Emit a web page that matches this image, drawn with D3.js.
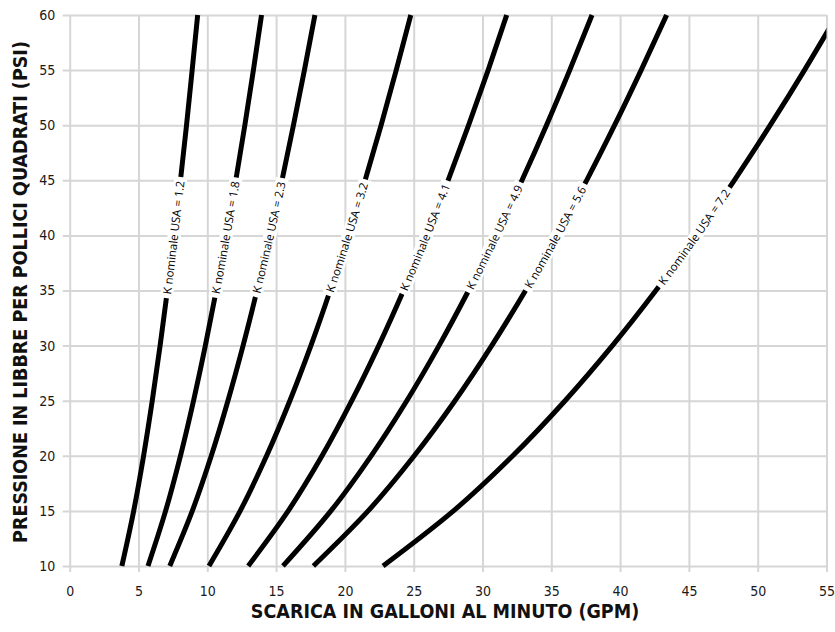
<!DOCTYPE html>
<html><head><meta charset="utf-8">
<script src="https://cdn.jsdelivr.net/npm/d3@7"></script>
<style>body{margin:0;background:#fff}</style></head><body>
<svg id="c" width="835" height="632"></svg>
<script>
// PSI values at which the curves were read
const pressure = [10, 15, 20, 25, 30, 35, 40, 45, 50, 55, 60];
const kValues = ["1.2", "1.8", "2.3", "3.2", "4.1", "4.9", "5.6", "7.2"];
// GPM read at each pressure, one array per curve
const flowK12 = [3.79, 4.65, 5.37, 6.00, 6.57, 7.10, 7.59, 8.05, 8.49, 8.90, 9.30];
const flowK18 = [5.69, 6.97, 8.05, 9.00, 9.86, 10.65, 11.38, 12.07, 12.73, 13.35, 13.94];
const flowK23 = [7.27, 8.91, 10.29, 11.50, 12.60, 13.61, 14.55, 15.43, 16.26, 17.06, 17.82];
const flowK32 = [10.12, 12.39, 14.31, 16.00, 17.53, 18.93, 20.24, 21.47, 22.63, 23.73, 24.79];
const flowK41 = [12.97, 15.88, 18.34, 20.50, 22.46, 24.26, 25.93, 27.50, 28.99, 30.41, 31.76];
const flowK49 = [15.50, 18.98, 21.91, 24.50, 26.84, 28.99, 30.99, 32.87, 34.65, 36.34, 37.96];
const flowK56 = [17.71, 21.69, 25.04, 28.00, 30.67, 33.13, 35.42, 37.57, 39.60, 41.53, 43.38];
const flowK72 = [22.77, 27.89, 32.20, 36.00, 39.44, 42.60, 45.54, 48.30, 50.91, 53.40, 55.77];
const flows = [flowK12, flowK18, flowK23, flowK32, flowK41, flowK49, flowK56, flowK72];
const xTicks = [0, 5, 10, 15, 20, 25, 30, 35, 40, 45, 50, 55];
const yTicks = [10, 15, 20, 25, 30, 35, 40, 45, 50, 55, 60];
const labelPressure = 39.8;
const xTitle = "SCARICA IN GALLONI AL MINUTO (GPM)";
const yTitle = "PRESSIONE IN LIBBRE PER POLLICI QUADRATI (PSI)";

const svg = d3.select("#c");
const x = d3.scaleLinear().domain([0, 55]).range([69.7, 826.5]);
const y = d3.scaleLinear().domain([10, 60]).range([566, 15]);
const gridColor = "#d6d6d6";
const tickFont = "'Liberation Sans Narrow', 'DejaVu Sans Condensed', sans-serif";

// X axis / vertical grid
const gx = svg.append("g").attr("transform", `translate(0,${y(10) + 6})`)
  .call(d3.axisBottom(x).tickValues(xTicks).tickSize(-(y(10) + 6 - y(60))).tickPadding(14));
gx.select(".domain").remove();
gx.selectAll("line").attr("stroke", gridColor).attr("stroke-width", 2);
gx.selectAll("text").attr("font-family", tickFont).attr("font-size", 14).attr("fill", "#1a1a1a");

// Y axis / horizontal grid
const gy = svg.append("g").attr("transform", `translate(${x(0) - 7},0)`)
  .call(d3.axisLeft(y).tickValues(yTicks).tickSize(-(x(55) - x(0) + 7)).tickPadding(7.5));
gy.select(".domain").remove();
gy.selectAll("line").attr("stroke", gridColor).attr("stroke-width", 2);
gy.selectAll("text").attr("font-family", tickFont).attr("font-size", 14).attr("fill", "#1a1a1a");

// titles
const titleFont = "'Liberation Sans Narrow', 'DejaVu Sans Condensed', sans-serif";
svg.append("text").attr("x", 445).attr("y", 618).attr("text-anchor", "middle")
  .attr("font-family", titleFont).attr("font-weight", "bold").attr("font-size", 19.5)
  .attr("fill", "#111").text(xTitle);
svg.append("text").attr("transform", "translate(27,292) rotate(-90)").attr("text-anchor", "middle")
  .attr("font-family", titleFont).attr("font-weight", "bold").attr("font-size", 19.5)
  .attr("fill", "#111").text(yTitle);

// clip
svg.append("defs").append("clipPath").attr("id", "plot")
  .append("rect").attr("x", x(0)).attr("y", y(60) - 4).attr("width", x(55) - x(0)).attr("height", y(10) - y(60) + 8);

const line = d3.line().x(d => x(d.q)).y(d => y(d.p)).curve(d3.curveMonotoneY);
const curves = svg.append("g").attr("clip-path", "url(#plot)");
const labelFont = "'Open Sans', sans-serif";
const labelSize = 11.5;

flows.forEach((arr, i) => {
  const pts = arr.map((q, j) => ({ q: q, p: pressure[j] }));
  const path = curves.append("path").attr("id", "curve" + i).attr("d", line(pts))
    .attr("fill", "none").attr("stroke", "#000").attr("stroke-width", 5);
  const node = path.node();
  const total = node.getTotalLength();
  // find path length where curve is at label pressure
  const ty = y(labelPressure);
  let lo = 0, hi = total;
  for (let k = 0; k < 40; k++) {
    const mid = (lo + hi) / 2;
    if (node.getPointAtLength(mid).y > ty) lo = mid; else hi = mid;
  }
  const L0 = (lo + hi) / 2;
  const label = "K nominale USA = " + kValues[i];
  const tmp = svg.append("text").attr("font-family", labelFont).attr("font-size", labelSize).text(label);
  const tl = tmp.node().getComputedTextLength();
  tmp.remove();
  const h = tl / 2 + 4;
  svg.append("path").attr("d", line(pts)).attr("fill", "none").attr("stroke", "#fff")
    .attr("stroke-width", 13).attr("stroke-dasharray", `0 ${L0 - h} ${2 * h} ${total + 50}`);
  svg.append("text").attr("font-family", labelFont).attr("font-size", labelSize).attr("fill", "#000")
    .attr("dy", "0.35em")
    .append("textPath").attr("href", "#curve" + i).attr("startOffset", L0).attr("text-anchor", "middle")
    .text(label);
});
</script>
</body></html>
